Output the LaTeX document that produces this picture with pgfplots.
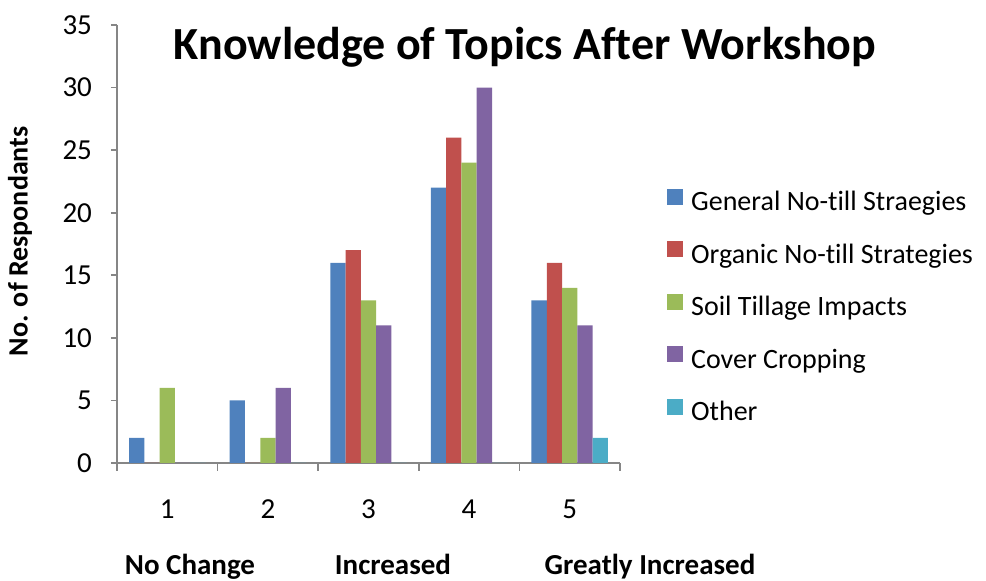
\documentclass[border=0pt]{standalone}
\usepackage{pgfplots}
\pgfplotsset{compat=1.18}
\usepackage{fontspec}
\setmainfont{Carlito}[Ligatures=NoCommon]
\definecolor{c1}{HTML}{4F81BD}
\definecolor{c2}{HTML}{C0504D}
\definecolor{c3}{HTML}{9BBB59}
\definecolor{c4}{HTML}{8064A2}
\definecolor{c5}{HTML}{4BACC6}
\definecolor{axgray}{HTML}{868686}
\begin{document}
\begin{tikzpicture}
\path[use as bounding box] (-58.5pt,-59pt) rectangle (434.5pt,231.5pt);
\begin{axis}[
  at={(0,0)}, anchor=south west,
  scale only axis, width=251.5pt, height=219pt,
  ybar=0pt, bar width=0.152,
  xmin=0.5, xmax=5.5, ymin=0, ymax=35,
  ytick={0,5,...,35},
  xtick={1,2,3,4,5},
  minor xtick={0.5,1.5,2.5,3.5,4.5,5.5},
  axis x line*=bottom, axis y line*=left,
  axis line style={axgray, line width=0.8pt, -},
  every tick/.style={axgray, line width=0.8pt},
  major x tick style={draw=none},
  tick align=outside,
  major tick length=3pt, minor tick length=4pt,
  /pgf/number format/assume math mode=true,
  tick label style={font=\fontsize{14.5}{16}\selectfont, black},
  xticklabel style={yshift=-12pt},
  yticklabel style={xshift=-6pt},
  legend style={draw=none, fill=none, inner sep=0pt,
    at={(axis description cs:1.093,0.354)}, anchor=west,
    font=\fontsize{14}{16}\selectfont,
    row sep=12.25pt, column sep=4pt,
    nodes={inner ysep=0pt, inner xsep=0pt, text height=10pt, text depth=3pt}},
  legend cell align=left,
  legend image code/.code={\fill[#1] (0pt,-0.5pt) rectangle (8pt,7.5pt);},
  every axis plot/.append style={draw=none},
]
\addplot[fill=c1] coordinates {(1,2) (2,5) (3,16) (4,22) (5,13)};
\addplot[fill=c2] coordinates {(1,0) (2,0) (3,17) (4,26) (5,16)};
\addplot[fill=c3] coordinates {(1,6) (2,2) (3,13) (4,24) (5,14)};
\addplot[fill=c4] coordinates {(1,0) (2,6) (3,11) (4,30) (5,11)};
\addplot[fill=c5] coordinates {(1,0) (2,0) (3,0) (4,0) (5,2)};
\legend{General No-till Straegies, Organic No-till Strategies, Soil Tillage Impacts, Cover Cropping, Other}
\end{axis}
\node[font=\fontsize{23}{27}\bfseries\selectfont] at (204pt,208pt) {Knowledge of Topics After Workshop};
\node[font=\fontsize{14}{16}\bfseries\selectfont, rotate=90] at (-48.5pt,110.75pt) {No. of Respondants};
\node[font=\fontsize{14.5}{16}\bfseries\selectfont, anchor=base] at (36.5pt,-56pt) {No Change};
\node[font=\fontsize{14.5}{16}\bfseries\selectfont, anchor=base] at (138pt,-56pt) {Increased};
\node[font=\fontsize{14.5}{16}\bfseries\selectfont, anchor=base] at (266.5pt,-56pt) {Greatly Increased};
\end{tikzpicture}
\end{document}
